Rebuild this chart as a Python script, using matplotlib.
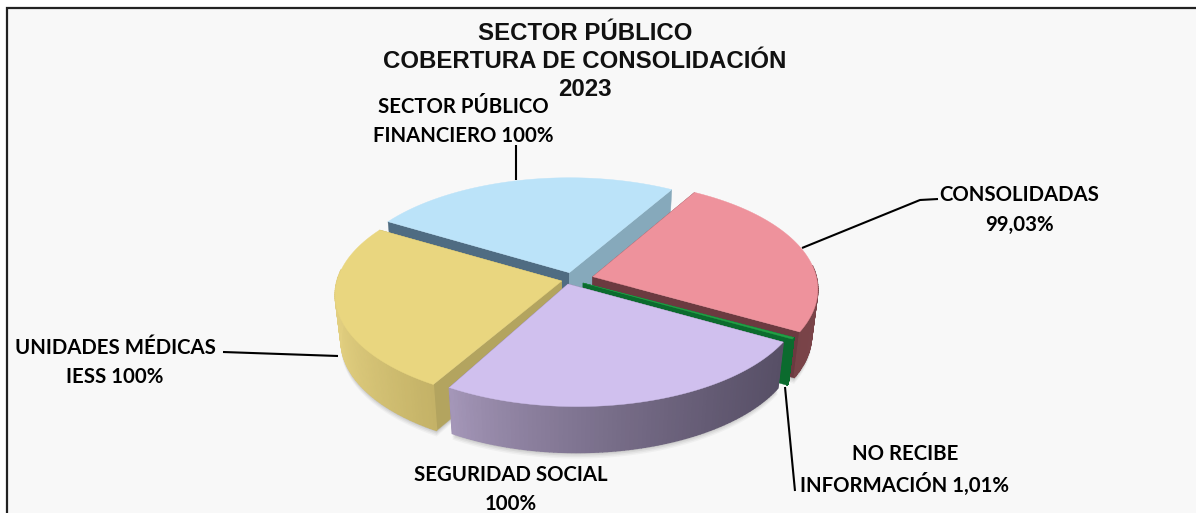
import numpy as np
import matplotlib
matplotlib.use("Agg")
import matplotlib.pyplot as plt
from matplotlib.colors import to_rgb
from matplotlib.patches import Rectangle

title_lines = ["SECTOR PÚBLICO", "COBERTURA DE CONSOLIDACIÓN", "2023"]
categories = ["CONSOLIDADAS", "NO RECIBE INFORMACIÓN", "SEGURIDAD SOCIAL",
              "UNIDADES MÉDICAS IESS", "SECTOR PÚBLICO FINANCIERO"]
values = [99.03, 1.01, 100, 100, 100]

# styling / geometry (pixels)
START = 59.5
A, B, P = 224.0, 107.0, 0.127
DEPTH, SHRINK, CX = 46.0, 0.975, 569.0
apex = [(592.7, 276.7), (583, 283), (568, 284), (561.7, 281), (569.3, 272.7)]
arc_c = [(592, 275.5), (586, 281), (577, 284), (561, 281), (569.3, 272.7)]
top_col = ["#ee929c", "#22a045", "#d0c0ee", "#e9d67f", "#bbe3f9"]
wall_stops = [["#6a383e", "#7a4449"], ["#0b6b2e", "#0b6b2e"], ["#a799bb", "#574f66"],
              ["#e2cf80", "#c4b267"], ["#4f6c82", "#4f6c82"]]
cut_a = ["#6b3a40", "#0b6b2e", "#6b5f80", "#b3a45f", "#4f6c82"]  # face at clockwise start
cut_b = ["#6b3a40", "#0b6b2e", "#6b5f80", "#b3a45f", "#86a9bb"]  # face at clockwise end

fig = plt.figure(figsize=(11.96, 5.13), dpi=100, facecolor="white")
ax = fig.add_axes([0, 0, 1, 1])
ax.set_xlim(0, 1196)
ax.set_ylim(513, 0)
ax.axis("off")
ax.add_patch(Rectangle((6.5, 7.5), 1300, 600, fc="#f8f8f8", ec="#222222", lw=1.6, zorder=0))

v = np.array(values, float)
edges = START - np.concatenate([[0], np.cumsum(v)]) * 360 / v.sum()


def proj(k, deg):
    t = np.radians(deg)
    X, Y = np.cos(t), np.sin(t)
    s = 1 / (1 + P * Y)
    return arc_c[k][0] + A * X * s, arc_c[k][1] - B * Y * s


def low(x, y):
    return CX + (x - CX) * SHRINK, y + DEPTH


def mix(c0, c1, f):
    a, b = np.array(to_rgb(c0)), np.array(to_rgb(c1))
    return tuple(a + (b - a) * f)


# soft shadows under the exploded slices
for off, al in [(6, .05), (4.5, .07), (3, .09), (1.5, .12)]:
    for k in [0, 2, 3]:
        th = np.linspace(edges[k], edges[k + 1], 90)
        x, y = proj(k, th)
        lx, ly = low(x, y)
        ax.fill(np.r_[lx, apex[k][0]], np.r_[ly + off, apex[k][1] + DEPTH],
                color="#555555", alpha=al, lw=0, zorder=1)

z = 2
for k in [4, 0, 1, 3, 2]:
    th = np.linspace(edges[k], edges[k + 1], 90)
    x, y = proj(k, th)
    lx, ly = low(x, y)
    ax0, ay0 = apex[k]
    bx0, by0 = low(ax0, ay0)
    # cut faces
    ax.fill([ax0, x[0], lx[0], bx0], [ay0, y[0], ly[0], by0], color=cut_a[k], lw=0.3, zorder=z)
    ax.fill([ax0, x[-1], lx[-1], bx0], [ay0, y[-1], ly[-1], by0], color=cut_b[k], lw=0.3, zorder=z)
    # outer wall (front-facing part only), gradient along screen x
    fr = (x - x.min()) / max(x.max() - x.min(), 1)
    for i in range(len(th) - 1):
        if np.sin(np.radians(th[i])) > 0.1:
            continue
        c = mix(wall_stops[k][0], wall_stops[k][1], fr[i] ** 0.75)
        ax.fill([x[i], x[i + 1], lx[i + 1], lx[i]], [y[i], y[i + 1], ly[i + 1], ly[i]],
                fc=c, ec=c, lw=1.0, zorder=z + 1)
    # top surface
    ax.fill(np.r_[ax0, x], np.r_[ay0, y], color=top_col[k], lw=0.3, zorder=z + 2)
    z += 3

# leader lines
lc = dict(color="black", lw=1.5, zorder=30, solid_capstyle="butt")
ax.plot([516, 516], [145, 180], **lc)
ax.plot([938, 920, 802], [199, 200, 248], **lc)
ax.plot([223, 338], [352, 356], **lc)
ax.plot([785, 795], [387, 491], **lc)

# title
for s, py in zip(title_lines, [34, 62, 89]):
    ax.text(585, py, s, ha="center", va="center", fontsize=17.3, fontweight="bold",
            family="Liberation Sans", color="#111111", zorder=40)

# labels
labs = [("SECTOR PÚBLICO", 463, 107), ("FINANCIERO 100%", 463, 136),
        ("CONSOLIDADAS", 1019, 195), (f"{values[0]:.2f}%".replace(".", ","), 1019, 225),
        ("UNIDADES MÉDICAS", 115, 348), ("IESS 100%", 115, 377),
        ("NO RECIBE", 905, 454), (f"INFORMACIÓN {values[1]:.2f}%".replace(".", ","), 905, 484),
        ("SEGURIDAD SOCIAL", 511, 475), ("100%", 511, 504)]
for s, px, py in labs:
    ax.text(px, py, s, ha="center", va="center", fontsize=14.7, fontweight="bold",
            family="Lato", color="black", zorder=40)

fig.savefig("out.png", dpi=100, facecolor="white")
